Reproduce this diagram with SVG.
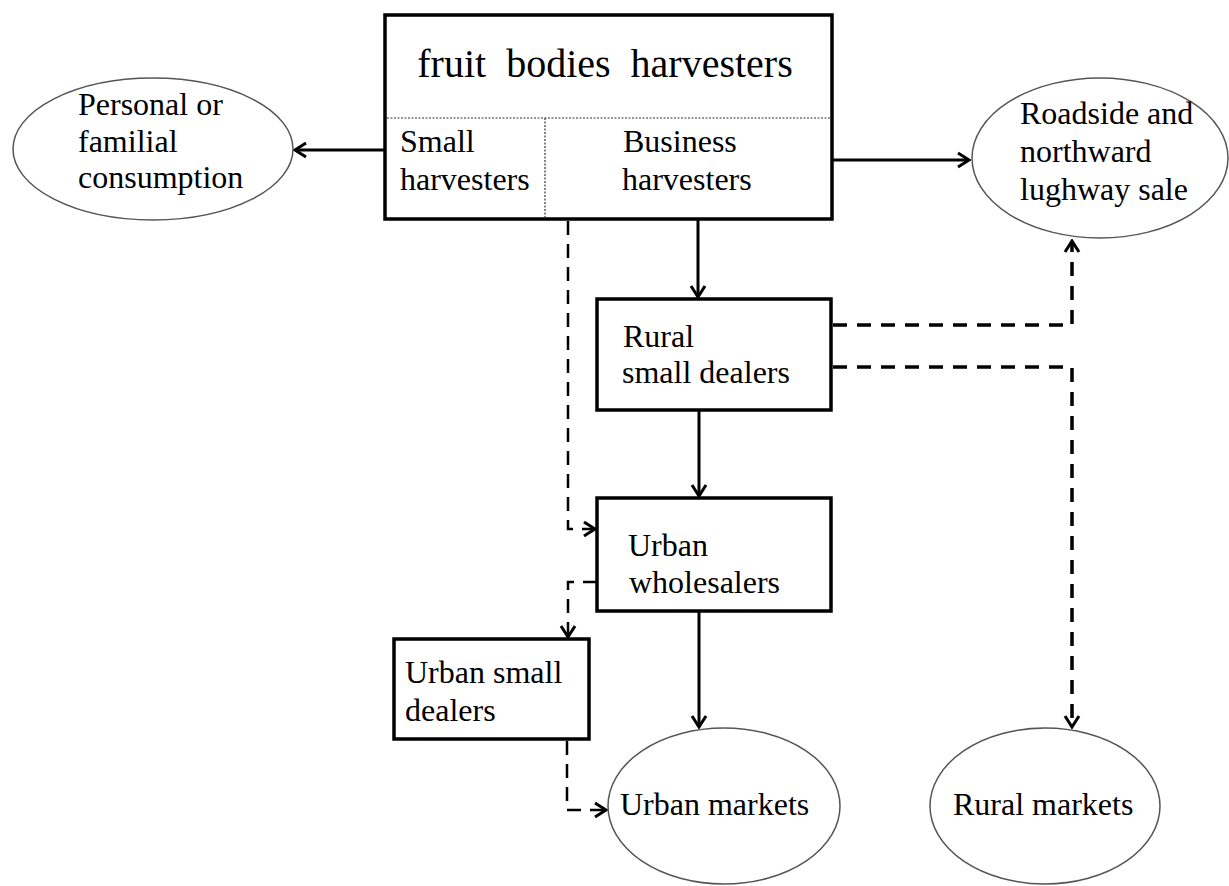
<svg xmlns="http://www.w3.org/2000/svg" width="1229" height="886" viewBox="0 0 1229 886">
<style>
text{font-family:"Liberation Serif","Times New Roman",serif;font-size:32px;fill:#000}
.box{fill:#fff;stroke:#000;stroke-width:3.5}
.ell{fill:#fff;stroke:#555;stroke-width:1.5}
.div{stroke:#333;stroke-width:1.2;stroke-dasharray:2 1.5;fill:none}
.solid{fill:none;stroke:#000;stroke-width:3}
.dash{fill:none;stroke:#000;stroke-width:2.5;stroke-dasharray:14 9}
.dash2{fill:none;stroke:#000;stroke-width:3.5;stroke-dasharray:14 10}
</style>
<defs>
<marker id="ah" viewBox="-14 -9 16 18" markerWidth="16" markerHeight="18" refX="0" refY="0" orient="auto" markerUnits="userSpaceOnUse">
<path d="M-11,-7 L0,0 L-11,7" fill="none" stroke="#000" stroke-width="3" stroke-dasharray="none"/>
</marker>
</defs>
<rect width="1229" height="886" fill="#fff"/>
<g id="connectors">
<path class="solid" d="M385,150 H295" marker-end="url(#ah)"/>
<path class="solid" d="M832,160 H969" marker-end="url(#ah)"/>
<path class="solid" d="M698,219 V297" marker-end="url(#ah)"/>
<path class="solid" d="M699,410 V496" marker-end="url(#ah)"/>
<path class="solid" d="M699,611 V727" marker-end="url(#ah)"/>
<path class="dash" d="M568,221 V529 H595" marker-end="url(#ah)"/>
<path class="dash" d="M597,582 H568 V637" marker-end="url(#ah)"/>
<path class="dash" d="M567,741 V810 H606" marker-end="url(#ah)"/>
<path class="dash2" d="M833,325 H1072 V241" marker-end="url(#ah)"/>
<path class="dash2" d="M833,367 H1072 V727" marker-end="url(#ah)"/>
</g>
<g id="harvesters">
<rect class="box" x="385" y="15" width="447" height="204"/>
<line class="div" x1="387" y1="118" x2="830" y2="118"/>
<line class="div" x1="545" y1="118" x2="545" y2="217"/>
<text x="605" y="77" text-anchor="middle" style="font-size:40px;word-spacing:10px">fruit bodies harvesters</text>
<text x="400" y="152">Small</text>
<text x="400" y="190">harvesters</text>
<text x="623" y="152">Business</text>
<text x="622" y="190">harvesters</text>
</g>
<g id="personal">
<ellipse class="ell" cx="153" cy="149" rx="140" ry="71"/>
<text x="78" y="115">Personal or</text>
<text x="78" y="152">familial</text>
<text x="78" y="188">consumption</text>
</g>
<g id="roadside">
<ellipse class="ell" cx="1100" cy="158" rx="128" ry="80"/>
<text x="1020" y="124">Roadside and</text>
<text x="1020" y="162">northward</text>
<text x="1020" y="200">lughway sale</text>
</g>
<g id="rural-dealers">
<rect class="box" x="597" y="299" width="234" height="111"/>
<text x="623" y="347">Rural</text>
<text x="622" y="383">small dealers</text>
</g>
<g id="wholesalers">
<rect class="box" x="597" y="498" width="234" height="113"/>
<text x="628" y="556">Urban</text>
<text x="629" y="593">wholesalers</text>
</g>
<g id="urban-small-dealers">
<rect class="box" x="394" y="639" width="195" height="100"/>
<text x="405" y="683">Urban small</text>
<text x="405" y="721">dealers</text>
</g>
<g id="urban-markets">
<ellipse class="ell" cx="724" cy="806" rx="116" ry="78"/>
<text x="620" y="815">Urban markets</text>
</g>
<g id="rural-markets">
<ellipse class="ell" cx="1045" cy="806" rx="115" ry="78"/>
<text x="953" y="815">Rural markets</text>
</g>
</svg>
